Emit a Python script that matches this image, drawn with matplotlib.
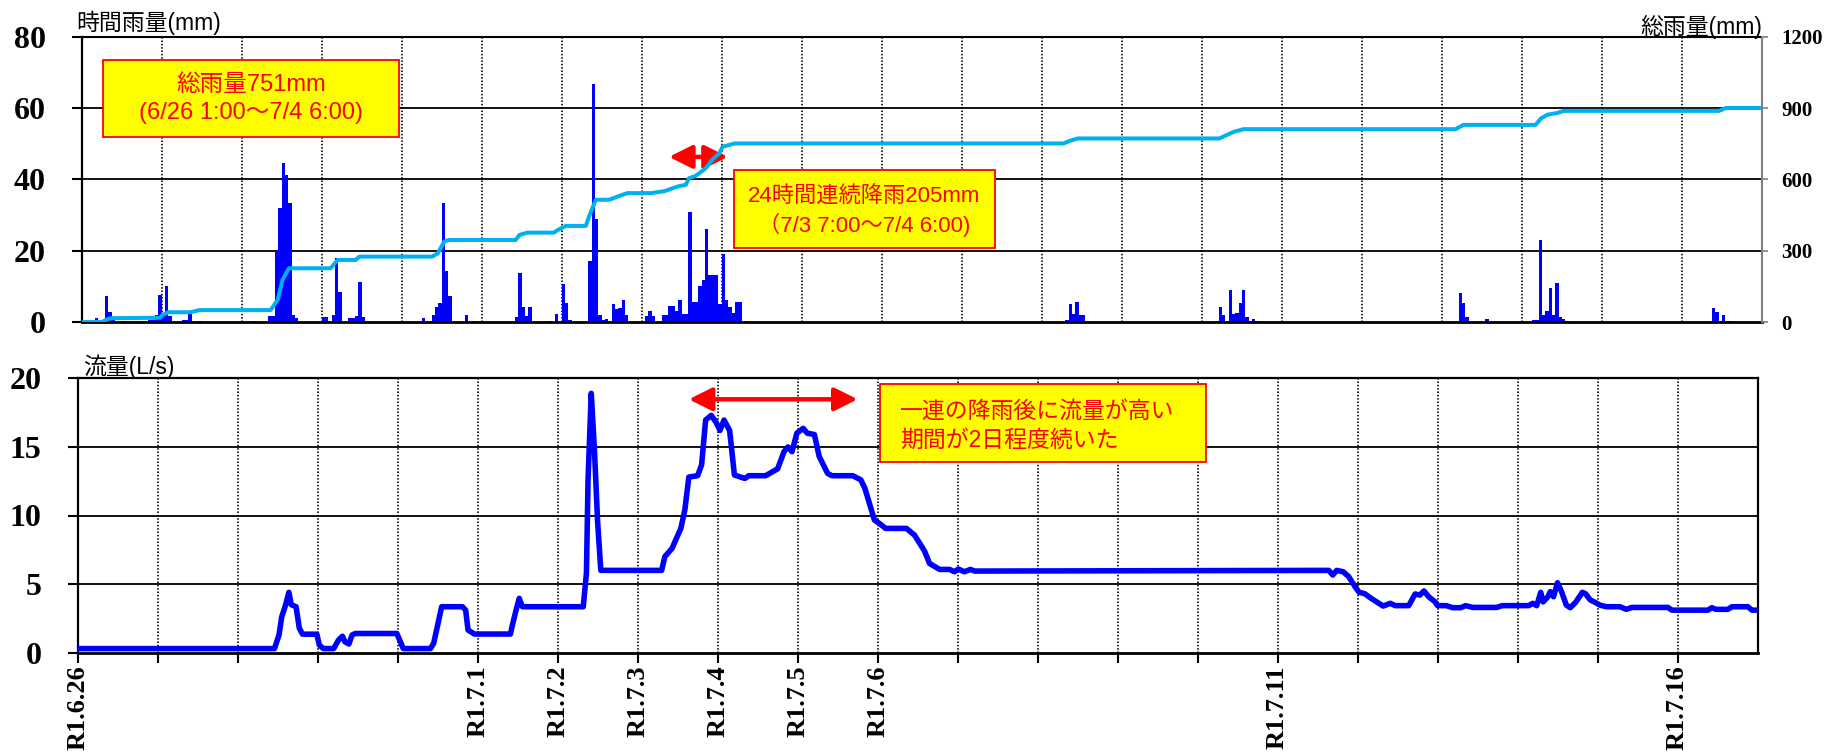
import numpy as np
import matplotlib
matplotlib.use("Agg")
import matplotlib.pyplot as plt
from matplotlib.patches import Rectangle, FancyArrowPatch

# ---------------- data ----------------
# hourly rainfall: hour index counted from R1.6.26 0:00, value in mm
RAIN_HOUR = [
    4, 7, 8, 9, 12,
    20, 21, 22, 23, 24, 25, 26, 30, 31, 32, 35, 51,
    56, 57, 58, 59, 60, 61, 62, 63, 64,
    72, 73, 75, 76, 77, 80, 81, 82, 83, 84,
    102, 105, 106, 107, 108, 109, 110, 115, 117,
    130, 131, 132, 133, 134, 140, 142, 144, 145, 146,
    152, 153, 154, 155, 156, 157, 159, 160, 161, 162, 163,
    169, 170, 171, 174, 175, 176, 177, 178, 179, 180, 181, 182, 183, 184,
    185, 186, 187, 188, 189, 190, 191, 192, 193, 194, 195, 196, 197, 199,
    295, 296, 297, 298, 299, 300,
    340, 341, 342, 343, 344, 345, 346, 347, 348, 349, 350, 351, 352,
    413, 414, 415, 421,
    435, 436, 437, 438, 439, 440, 441, 442, 443, 444, 445,
    489, 490, 491, 492, 493, 494,
]
RAIN_MM = [
    1.0, 7.4, 2.7, 1.0, 0.4,
    0.5, 0.5, 2.0, 7.5, 1.9, 10.2, 1.6, 0.6, 0.6, 2.2, 0.3, 0.2,
    1.6, 1.6, 19.8, 32.0, 44.5, 41.3, 33.5, 2.0, 1.0,
    1.5, 1.5, 2.0, 17.9, 8.5, 1.2, 1.2, 1.6, 11.2, 1.4,
    1.2, 1.9, 4.2, 5.3, 33.4, 14.3, 7.2, 1.9, 0.4,
    1.4, 13.6, 4.2, 1.6, 4.2, 0.3, 2.3, 10.6, 5.3, 0.5,
    17.2, 66.7, 28.9, 2.1, 0.7, 0.8, 5.1, 3.6, 3.8, 6.3, 2.1,
    1.6, 3.2, 1.6, 2.1, 2.1, 4.5, 4.5, 3.2, 6.3, 2.2, 2.2, 30.8, 5.5, 5.5,
    10.2, 11.9, 26.1, 13.2, 13.2, 13.2, 5.1, 19.1, 6.3, 4.3, 2.5, 5.5, 5.5, 0.3,
    0.7, 5.0, 2.3, 5.5, 2.0, 2.0,
    0.3, 4.2, 1.9, 0.3, 8.9, 2.3, 2.5, 5.4, 8.9, 1.4, 0.4, 0.75, 0.2,
    8.2, 5.4, 1.4, 0.75,
    0.5, 0.5, 22.9, 1.9, 3.0, 9.5, 1.9, 10.8, 1.4, 0.75, 0.4,
    3.9, 2.7, 0.3, 2.1, 0.3, 0.3,
]

# cumulative rainfall (mm) against elapsed days from R1.6.26 0:00
CUM_DAY = [0.0, 0.25, 0.30, 0.36, 0.98, 1.01, 1.08, 1.36, 1.47, 2.36, 2.45, 2.51,
           2.59, 3.11, 3.20, 3.425, 3.47, 4.38, 4.45, 4.53, 4.59, 5.425, 5.47,
           5.57, 5.90, 5.95, 6.05, 6.30, 6.34, 6.425, 6.59, 6.70, 6.82, 7.11,
           7.28, 7.45, 7.55, 7.59, 7.675, 7.80, 7.88, 7.97, 8.01, 8.16,
           12.27, 12.35, 12.45, 14.22, 14.30, 14.40, 14.52, 17.17, 17.27,
           18.17, 18.24, 18.32, 18.44, 18.52, 20.46, 20.55, 21.0]
CUM_MM = [0, 0, 8, 16, 18, 30, 41, 41, 50, 50, 93, 177,
          226, 226, 261, 261, 275, 275, 289, 338, 345, 345, 366,
          376, 376, 387, 404, 404, 443, 514, 514, 528, 542, 542,
          550, 570, 577, 605, 615, 647, 682, 710, 737, 751,
          751, 762, 772, 772, 785, 800, 811, 811, 829,
          829, 857, 872, 879, 888, 888, 900, 900]

# discharge (L/s) against elapsed days from R1.6.26 0:00
FLOW_DAY = [0.0, 2.46, 2.517, 2.55, 2.60, 2.64, 2.67, 2.73, 2.77, 2.81, 2.99, 3.02,
            3.07, 3.20, 3.26, 3.31, 3.34, 3.39, 3.43, 3.47, 3.99, 4.05, 4.07, 4.41,
            4.45, 4.50, 4.55, 4.81, 4.85, 4.88, 4.96, 5.41, 5.43, 5.48, 5.52, 5.56,
            6.32, 6.36, 6.38, 6.42, 6.46, 6.50, 6.54, 6.58, 7.30, 7.34, 7.43, 7.54,
            7.59, 7.64, 7.75, 7.80, 7.85, 7.92, 7.98, 8.03, 8.08, 8.15, 8.21, 8.34,
            8.39, 8.60, 8.75, 8.83, 8.88, 8.93, 8.99, 9.07, 9.12, 9.21, 9.27, 9.375,
            9.43, 9.69, 9.79, 9.84, 9.96, 10.02, 10.10, 10.36, 10.46, 10.54, 10.59,
            10.65, 10.775, 10.90, 10.96, 11.01, 11.085, 11.16, 11.215, 15.64, 15.69,
            15.74, 15.82, 15.89, 15.97, 16.02, 16.09, 16.17, 16.24, 16.32, 16.41,
            16.47, 16.64, 16.72, 16.78, 16.83, 16.89, 16.97, 17.00, 17.11, 17.19,
            17.29, 17.35, 17.44, 17.74, 17.81, 18.14, 18.19, 18.24, 18.29, 18.32,
            18.38, 18.41, 18.45, 18.50, 18.55, 18.61, 18.66, 18.73, 18.81, 18.85,
            18.91, 18.96, 19.03, 19.11, 19.28, 19.36, 19.43, 19.88, 19.93, 20.38,
            20.43, 20.48, 20.63, 20.68, 20.88, 20.93, 21.0]
FLOW_LPS = [0.3, 0.3, 1.3, 2.6, 3.5, 4.4, 3.5, 3.35, 1.8, 1.35, 1.35, 0.56,
            0.3, 0.3, 0.92, 1.2, 0.8, 0.63, 1.29, 1.4, 1.4, 0.56, 0.3, 0.3,
            0.68, 2.0, 3.35, 3.35, 3.1, 1.65, 1.36, 1.36, 1.9, 3.1, 3.96, 3.35,
            3.35, 5.8, 12.6, 18.9, 14.8, 9.5, 6.0, 6.0, 6.0, 7.0, 7.6, 9.06,
            10.4, 12.8, 12.9, 13.7, 16.96, 17.3, 16.8, 16.2, 16.96, 16.2, 12.95, 12.7,
            12.9, 12.9, 13.4, 14.65, 15.0, 14.65, 16.0, 16.35, 16.0, 15.9, 14.3, 13.07,
            12.9, 12.9, 12.6, 12.0, 9.67, 9.43, 9.06, 9.06, 8.58, 7.85, 7.36,
            6.5, 6.07, 6.07, 5.9, 6.1, 5.9, 6.07, 5.95, 6.0, 5.66,
            6.0, 5.9, 5.54, 4.8, 4.4, 4.3, 3.96, 3.7, 3.4, 3.6,
            3.43, 3.43, 4.28, 4.2, 4.5, 4.08, 3.7, 3.43, 3.43, 3.28,
            3.28, 3.43, 3.3, 3.3, 3.43, 3.43, 3.6, 3.43, 4.4, 3.7,
            4.08, 4.45, 4.08, 5.1, 4.45, 3.47, 3.28, 3.7, 4.4, 4.3,
            3.84, 3.7, 3.47, 3.35, 3.35, 3.16, 3.3, 3.3, 3.1, 3.1,
            3.28, 3.16, 3.16, 3.35, 3.35, 3.1, 3.1]

# date tick labels on the discharge panel (day index -> label)
DATE_TICK_DAY = [0, 5, 6, 7, 8, 9, 10, 15, 20]
DATE_TICK_LABEL = ["R1.6.26", "R1.7.1", "R1.7.2", "R1.7.3", "R1.7.4",
                   "R1.7.5", "R1.7.6", "R1.7.11", "R1.7.16"]

RAIN_TICKS = [0, 20, 40, 60, 80]
CUM_TICKS = [0, 300, 600, 900, 1200]
FLOW_TICKS = [0, 5, 10, 15, 20]

# ---------------- styling ----------------
W, H, DPI = 1825, 752, 100
JP = ["Liberation Sans", "Noto Sans CJK JP"]
NUM = "Liberation Serif"
RED = "#FF0000"
YELLOW = "#FFFF00"
BLUE = "#0000FF"
CYAN = "#00B0F0"
ARROW = "<|-|>,head_length=14,head_width=7"

fig = plt.figure(figsize=(W / DPI, H / DPI), dpi=DPI)


def fx(px):
    return px / W


def fy(py):
    return 1 - py / H


def grid_lines(ax, hvals):
    for v in hvals:
        ax.axhline(v, color="black", lw=1.3, zorder=1)
    for d in range(1, 21):
        ax.axvline(d, color="black", lw=1.2, ls=(0, (0.9, 1.1)), zorder=1)


# ---------- rainfall panel ----------
ax_r = fig.add_axes([fx(81.7), fy(322), (1762 - 81.7) / W, (322 - 36.7) / H])
ax_c = ax_r.twinx()

ax_r.set_xlim(0, 21)
ax_r.set_ylim(0, 80)
grid_lines(ax_r, [20, 40, 60])
ax_r.bar(np.array(RAIN_HOUR) / 24.0, RAIN_MM, width=1 / 24.0, align="edge",
         color=BLUE, linewidth=0, zorder=2)
ax_r.set_xticks([])
ax_r.set_yticks(RAIN_TICKS, labels=[str(t) for t in RAIN_TICKS],
                fontfamily=NUM, fontweight="bold", fontsize=23)
ax_r.tick_params(axis="y", direction="out", length=7, width=1.5, pad=19)
ax_r.spines["left"].set_linewidth(1.6)
ax_r.spines["top"].set_linewidth(1.5)
ax_r.spines["bottom"].set_linewidth(2.0)
ax_r.spines["right"].set_visible(False)

ax_c.plot(CUM_DAY, CUM_MM, color=CYAN, lw=2.9, solid_joinstyle="round",
          solid_capstyle="butt", zorder=3)
ax_c.set_ylim(0, 1200)
ax_c.set_yticks(CUM_TICKS, labels=[str(t) for t in CUM_TICKS],
                fontfamily=NUM, fontweight="bold", fontsize=15)
ax_c.tick_params(axis="y", direction="out", length=4, width=1.2,
                 color="#808080", labelcolor="black", pad=10)
for s in ("left", "top", "bottom"):
    ax_c.spines[s].set_visible(False)
ax_c.spines["right"].set_color("#808080")
ax_c.spines["right"].set_linewidth(1.5)

# 24-hour window arrow
ax_r.add_patch(FancyArrowPatch((7.34, 46.3), (8.075, 46.3), arrowstyle=ARROW,
                               mutation_scale=1, lw=3.2, color=RED,
                               shrinkA=0, shrinkB=0, zorder=4))

# ---------- discharge panel ----------
ax_q = fig.add_axes([fx(77.7), fy(652.7), (1757.5 - 77.7) / W, (652.7 - 378.3) / H])
ax_q.set_xlim(0, 21)
ax_q.set_ylim(0, 20)
grid_lines(ax_q, [5, 10, 15])
ax_q.plot(FLOW_DAY, FLOW_LPS, color=BLUE, lw=4.0, solid_joinstyle="round",
          solid_capstyle="round", zorder=4)
ax_q.set_yticks(FLOW_TICKS, labels=[str(t) for t in FLOW_TICKS],
                fontfamily=NUM, fontweight="bold", fontsize=23)
ax_q.tick_params(axis="y", direction="out", length=7, width=1.5, pad=19)
xlabels = [""] * 21
for d, lab in zip(DATE_TICK_DAY, DATE_TICK_LABEL):
    xlabels[d] = lab
ax_q.set_xticks(range(21), labels=xlabels, rotation=90,
                fontfamily=NUM, fontweight="bold", fontsize=19)
ax_q.tick_params(axis="x", direction="out", length=7, width=1.5, pad=2)
for s in ("left", "top", "right"):
    ax_q.spines[s].set_linewidth(1.6)
ax_q.spines["bottom"].set_linewidth(2.0)

ax_q.add_patch(FancyArrowPatch((7.64, 18.47), (9.75, 18.47), arrowstyle=ARROW,
                               mutation_scale=1, lw=3.2, color=RED,
                               shrinkA=0, shrinkB=0, zorder=5))

# ---------- axis titles ----------
fig.text(fx(76), fy(23.3), "時間雨量(mm)", family=JP, fontsize=16.5,
         ha="left", va="center", zorder=6)
fig.text(fx(1762), fy(26.7), "総雨量(mm)", family=JP, fontsize=16.5,
         ha="right", va="center", zorder=6)
fig.text(fx(83), fy(366.7), "流量(L/s)", family=JP, fontsize=16.5,
         ha="left", va="center", zorder=6)


# ---------- callout boxes ----------
def callout(x0, y0, x1, y1):
    fig.add_artist(Rectangle((fx(x0), fy(y1)), (x1 - x0) / W, (y1 - y0) / H,
                             transform=fig.transFigure, facecolor=YELLOW,
                             edgecolor=RED, lw=1.3, zorder=7))


callout(103, 60, 399, 137)
fig.text(fx(251), fy(85), "総雨量751mm", family=JP, fontsize=17, color=RED,
         ha="center", va="center", zorder=8)
fig.text(fx(251), fy(113), "(6/26 1:00～7/4 6:00)", family=JP, fontsize=17,
         color=RED, ha="center", va="center", zorder=8)

callout(734, 170, 995, 248)
fig.text(fx(864.5), fy(197), "24時間連続降雨205mm", family=JP, fontsize=16,
         color=RED, ha="center", va="center", zorder=8)
fig.text(fx(864.5), fy(225), "（7/3 7:00～7/4 6:00)", family=JP, fontsize=16,
         color=RED, ha="center", va="center", zorder=8)

callout(880, 384.3, 1206, 461.7)
fig.text(fx(900), fy(411.7), "一連の降雨後に流量が高い", family=JP, fontsize=16.5,
         color=RED, ha="left", va="center", zorder=8)
fig.text(fx(900), fy(440), "期間が2日程度続いた", family=JP, fontsize=16.5,
         color=RED, ha="left", va="center", zorder=8)

fig.savefig("out.png", dpi=DPI)
